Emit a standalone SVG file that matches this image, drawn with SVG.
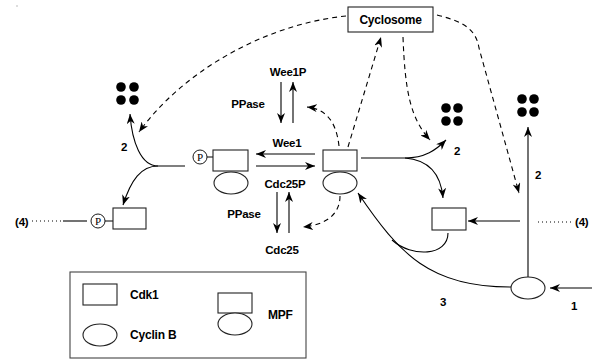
<svg xmlns="http://www.w3.org/2000/svg" width="592" height="360" viewBox="0 0 592 360">
<defs>
<marker id="ah" viewBox="0 0 10 8" refX="10" refY="4" markerWidth="10" markerHeight="8" markerUnits="userSpaceOnUse" orient="auto">
<path d="M0,0 L10,4 L0,8 L3,4 z" fill="#000"/>
</marker>
<style>
.ln{fill:none;stroke:#000;stroke-width:1.1}
.da{fill:none;stroke:#000;stroke-width:1.1;stroke-dasharray:5,4}
.dt{fill:none;stroke:#000;stroke-width:1;stroke-dasharray:1,3}
.bx{fill:#fff;stroke:#222;stroke-width:1.1}
.t{font-family:"Liberation Sans",Arial,sans-serif;font-weight:bold;font-size:11.5px;fill:#000;letter-spacing:-0.2px}
.lg{font-size:12px}
.p{font-family:"Liberation Serif","Times New Roman",serif;font-size:11px;fill:#000}
.dot{fill:#000}
</style>
</defs>
<rect width="592" height="360" fill="#fff"/>
<rect x="16" y="5" width="2" height="2" fill="#ddd"/>

<g id="connectors">
<path class="da" d="M346,16 C260,25 180,75 139,132" marker-end="url(#ah)"/>
<path class="da" d="M437,15 C465,22 476,30 479,48 L519,193" marker-end="url(#ah)"/>
<path class="da" d="M403,37 C405,90 410,118 430,140" marker-end="url(#ah)"/>
<path class="da" d="M348,147 L381,37" marker-end="url(#ah)"/>
<path class="da" d="M339,146 C336,120 325,109 307,107" marker-end="url(#ah)"/>
<path class="da" d="M340,196 C340,215 325,225 303,227" marker-end="url(#ah)"/>
<path class="ln" d="M315,154 L256,154" marker-end="url(#ah)"/>
<path class="ln" d="M256,166 L315,166" marker-end="url(#ah)"/>
<path class="ln" d="M281,82 L281,123" marker-end="url(#ah)"/>
<path class="ln" d="M293,123 L293,82" marker-end="url(#ah)"/>
<path class="ln" d="M277,192 L277,233" marker-end="url(#ah)"/>
<path class="ln" d="M289,233 L289,192" marker-end="url(#ah)"/>
<path class="ln" d="M185,166 L158,166 C141,166 132,142 130,114" marker-end="url(#ah)"/>
<path class="ln" d="M158,166 C141,166 131,180 123,205" marker-end="url(#ah)"/>
<path class="ln" d="M361,158 L405,158 C425,158 436,150 446,140" marker-end="url(#ah)"/>
<path class="ln" d="M405,158 C430,160 441,175 443,198" marker-end="url(#ah)"/>
<path class="ln" d="M520,221 L468,221" marker-end="url(#ah)"/>
<path class="ln" d="M528,277 L528,127" marker-end="url(#ah)"/>
<path class="ln" d="M592,288 L550,288" marker-end="url(#ah)"/>
<path class="ln" d="M511,287 C430,287 400,255 358,193" marker-end="url(#ah)"/>
<path class="ln" d="M448,233 C448,256 412,258 392,240"/>
<path class="dt" d="M32,221 L61,221"/>
<path class="ln" d="M63,221 L87,221"/>
<path class="dt" d="M538,222 L573,222"/>
</g>

<g id="cyclosome">
<rect class="bx" x="348" y="7" width="85" height="25"/>
<text class="t" x="390.5" y="24" text-anchor="middle" style="font-size:12px">Cyclosome</text>
</g>

<g id="dots-left">
<circle class="dot" cx="121" cy="87" r="4.8"/><circle class="dot" cx="134" cy="87" r="4.8"/>
<circle class="dot" cx="121" cy="100" r="4.8"/><circle class="dot" cx="134" cy="100" r="4.8"/>
</g>
<g id="dots-mid">
<circle class="dot" cx="446" cy="108" r="4.8"/><circle class="dot" cx="458" cy="108" r="4.8"/>
<circle class="dot" cx="446" cy="121" r="4.8"/><circle class="dot" cx="458" cy="121" r="4.8"/>
</g>
<g id="dots-right">
<circle class="dot" cx="522" cy="99" r="4.8"/><circle class="dot" cx="534" cy="99" r="4.8"/>
<circle class="dot" cx="522" cy="112" r="4.8"/><circle class="dot" cx="534" cy="112" r="4.8"/>
</g>

<g id="mpf-p">
<circle cx="200" cy="157" r="7" fill="#fff" stroke="#000" stroke-width="0.9"/>
<text class="p" x="200" y="161" text-anchor="middle">P</text>
<line x1="207" y1="157" x2="213" y2="157" stroke="#000"/>
<rect class="bx" x="213" y="150" width="35" height="21"/>
<ellipse class="bx" cx="231" cy="183" rx="17" ry="11"/>
</g>

<g id="mpf">
<rect class="bx" x="323" y="150" width="34" height="21"/>
<ellipse class="bx" cx="340" cy="183" rx="17" ry="11"/>
</g>

<g id="cdk1-p">
<circle cx="98" cy="221" r="7" fill="#fff" stroke="#000" stroke-width="0.9"/>
<text class="p" x="98" y="225" text-anchor="middle">P</text>
<line x1="105" y1="221" x2="113" y2="221" stroke="#000"/>
<rect class="bx" x="113" y="208" width="33" height="21"/>
</g>

<g id="cdk1">
<rect class="bx" x="432" y="208" width="34" height="22"/>
</g>

<g id="cyclinB">
<ellipse class="bx" cx="528" cy="288" rx="17" ry="11"/>
</g>

<g id="labels">
<text class="t" x="288" y="76" text-anchor="middle">Wee1P</text>
<text class="t" x="248" y="108" text-anchor="middle">PPase</text>
<text class="t" x="287" y="147" text-anchor="middle">Wee1</text>
<text class="t" x="285" y="188" text-anchor="middle">Cdc25P</text>
<text class="t" x="244" y="218" text-anchor="middle">PPase</text>
<text class="t" x="282" y="254" text-anchor="middle">Cdc25</text>
<text class="t" x="124" y="151" text-anchor="middle">2</text>
<text class="t" x="457" y="155" text-anchor="middle">2</text>
<text class="t" x="538" y="179" text-anchor="middle">2</text>
<text class="t" x="443" y="306" text-anchor="middle">3</text>
<text class="t" x="574" y="310" text-anchor="middle">1</text>
<text class="t" x="15" y="226">(4)</text>
<text class="t" x="575" y="226">(4)</text>
</g>

<g id="legend">
<rect x="70" y="272" width="236" height="86" fill="none" stroke="#444" stroke-width="1.1"/>
<rect class="bx" x="83" y="284" width="34" height="21"/>
<text class="t lg" x="130" y="299">Cdk1</text>
<ellipse class="bx" cx="100" cy="335" rx="17" ry="11"/>
<text class="t lg" x="130" y="339">Cyclin B</text>
<rect class="bx" x="218" y="293" width="34" height="20"/>
<ellipse class="bx" cx="235" cy="324" rx="17" ry="11"/>
<text class="t lg" x="268" y="319">MPF</text>
</g>
</svg>
